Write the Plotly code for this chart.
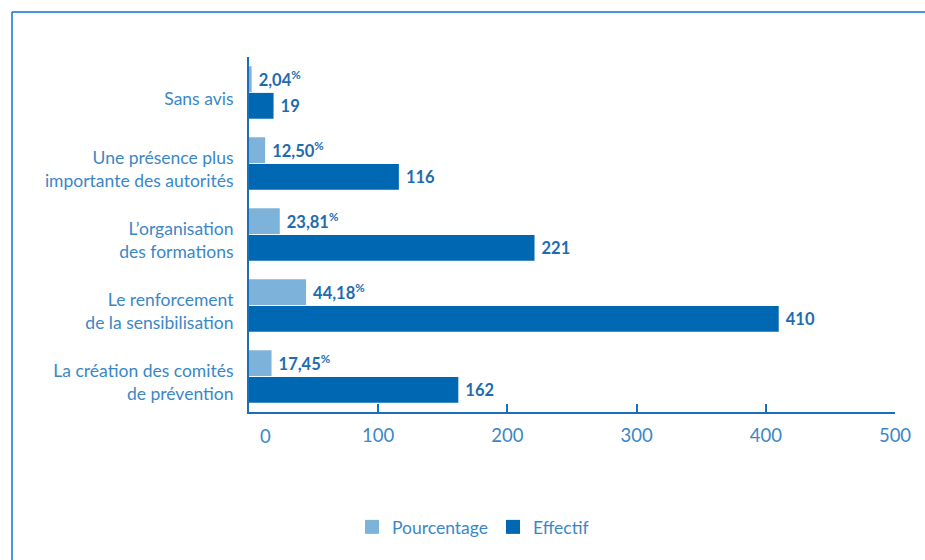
import plotly.graph_objects as go

# Survey results: suggested measures, count and share of respondents
categories = [
    "Sans avis",
    "Une présence plus<br>importante des autorités",
    "L’organisation<br>des formations",
    "Le renforcement<br>de la sensibilisation",
    "La création des comités<br>de prévention",
]
pourcentage = [2.04, 12.50, 23.81, 44.18, 17.45]
effectif = [19, 116, 221, 410, 162]
x_ticks = [0, 100, 200, 300, 400, 500]

LIGHT = "#7db3db"
DARK = "#0068b3"
AXIS = "#1a6fb8"
LABEL = "#3a87c8"
VALUE = "#1d6bb0"
FONT = "Lato"

# Canvas geometry (pixels)
W, H = 925, 560
L, R, T, B = 249, 30, 57, 148
pw, ph = W - L - R, H - T - B


def px_x(x):
    return (x - L) / pw


def px_y(y):
    return (H - B - y) / ph


NB = "\u00a0"
pct_text = [NB + f"{v:.2f}".replace(".", ",") + "<sup>%</sup>" for v in pourcentage]
eff_text = [NB + str(v) for v in effectif]

fig = go.Figure()
fig.add_trace(go.Bar(
    name="Pourcentage", y=categories, x=pourcentage, orientation="h",
    marker=dict(color=LIGHT, line=dict(width=0)), showlegend=False,
    text=pct_text, textposition="outside", constraintext="none", cliponaxis=False,
    textfont=dict(family=FONT, size=16.5, color=VALUE, weight=700),
))
fig.add_trace(go.Bar(
    name="Effectif", y=categories, x=effectif, orientation="h",
    marker=dict(color=DARK, line=dict(width=0)), showlegend=False,
    text=eff_text, textposition="outside", constraintext="none", cliponaxis=False,
    textfont=dict(family=FONT, size=16.5, color=VALUE, weight=700),
))

# Legend entries with square swatches
for name, color in (("Pourcentage", LIGHT), ("Effectif", DARK)):
    fig.add_trace(go.Scatter(
        x=[None], y=[None], mode="markers", name=name,
        marker=dict(symbol="square", size=14, color=color),
    ))

fig.update_layout(
    width=W, height=H,
    margin=dict(l=L, r=R, t=T, b=B, autoexpand=False),
    paper_bgcolor="white", plot_bgcolor="white",
    barmode="group", bargap=0.25, bargroupgap=0.03,
    font=dict(family=FONT, size=17, color=LABEL),
    showlegend=True,
    legend=dict(
        orientation="h", x=px_x(473), xanchor="center", y=px_y(527), yanchor="middle",
        font=dict(family=FONT, size=17.5, color=LABEL), itemwidth=30,
        bgcolor="rgba(0,0,0,0)",
    ),
    xaxis=dict(
        range=[0, 500], tickvals=x_ticks, ticktext=[""] + [str(t) for t in x_ticks[1:]],
        showgrid=False, zeroline=False,
        showline=True, linecolor=AXIS, linewidth=2,
        ticks="inside", ticklen=8, tickwidth=2, tickcolor=AXIS,
        tickfont=dict(family=FONT, size=18.5, color=LABEL),
        ticklabelstandoff=6,
    ),
    yaxis=dict(
        autorange="reversed", showgrid=False, zeroline=False,
        showline=True, linecolor=AXIS, linewidth=2,
        ticks="", ticklabelstandoff=10, ticklabelshift=-6,
        tickfont=dict(family=FONT, size=17.5, color=LABEL),
    ),
    annotations=[dict(
        x=13, y=px_y(436), xref="x", yref="paper", text="0", showarrow=False,
        font=dict(family=FONT, size=18.5, color=LABEL), xanchor="center", yanchor="middle",
    )],
    shapes=[
        dict(type="line", xref="paper", yref="paper",
             x0=px_x(12), x1=px_x(W + 5), y0=px_y(12), y1=px_y(12),
             line=dict(color="#0a74cc", width=1.5)),
        dict(type="line", xref="paper", yref="paper",
             x0=px_x(12), x1=px_x(12), y0=px_y(12), y1=px_y(H + 5),
             line=dict(color="#0a74cc", width=1.5)),
    ],
)

fig.write_html("out.html")
